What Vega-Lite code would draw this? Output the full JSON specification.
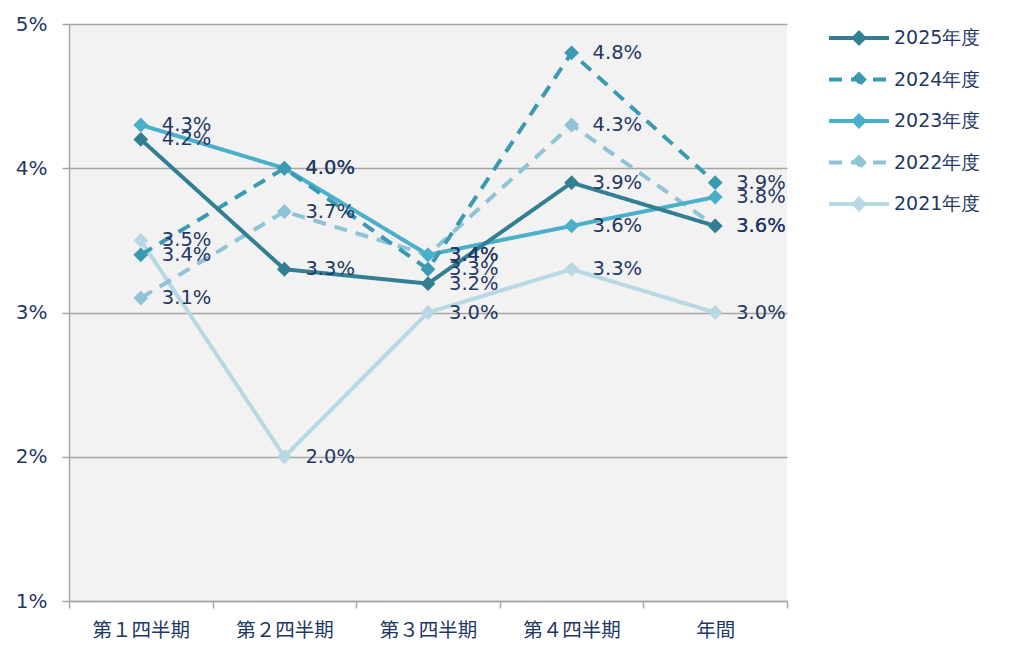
{
  "$schema": "https://vega.github.io/schema/vega-lite/v6.json",
  "autosize": {"type": "none"},
  "width": 718,
  "height": 577,
  "padding": {"left": 69, "top": 24, "right": 237, "bottom": 70},
  "background": "white",
  "config": {
    "view": {"fill": "#f2f2f2", "stroke": null},
    "font": "DejaVu Sans",
    "axis": {"labelColor": "#1f3864", "labelFont": "DejaVu Sans", "titleColor": "#1f3864"}
  },
  "data": {
    "values": [
      {"series": "2021年度", "period": "第１四半期", "value": 0.035},
      {"series": "2021年度", "period": "第２四半期", "value": 0.020},
      {"series": "2021年度", "period": "第３四半期", "value": 0.030},
      {"series": "2021年度", "period": "第４四半期", "value": 0.033},
      {"series": "2021年度", "period": "年間", "value": 0.030},
      {"series": "2022年度", "period": "第１四半期", "value": 0.031},
      {"series": "2022年度", "period": "第２四半期", "value": 0.037},
      {"series": "2022年度", "period": "第３四半期", "value": 0.034},
      {"series": "2022年度", "period": "第４四半期", "value": 0.043},
      {"series": "2022年度", "period": "年間", "value": 0.036},
      {"series": "2023年度", "period": "第１四半期", "value": 0.043},
      {"series": "2023年度", "period": "第２四半期", "value": 0.040},
      {"series": "2023年度", "period": "第３四半期", "value": 0.034},
      {"series": "2023年度", "period": "第４四半期", "value": 0.036},
      {"series": "2023年度", "period": "年間", "value": 0.038},
      {"series": "2024年度", "period": "第１四半期", "value": 0.034},
      {"series": "2024年度", "period": "第２四半期", "value": 0.040},
      {"series": "2024年度", "period": "第３四半期", "value": 0.033},
      {"series": "2024年度", "period": "第４四半期", "value": 0.048},
      {"series": "2024年度", "period": "年間", "value": 0.039},
      {"series": "2025年度", "period": "第１四半期", "value": 0.042},
      {"series": "2025年度", "period": "第２四半期", "value": 0.033},
      {"series": "2025年度", "period": "第３四半期", "value": 0.032},
      {"series": "2025年度", "period": "第４四半期", "value": 0.039},
      {"series": "2025年度", "period": "年間", "value": 0.036}
    ]
  },
  "encoding": {
    "x": {
      "field": "period",
      "type": "nominal",
      "sort": ["第１四半期", "第２四半期", "第３四半期", "第４四半期", "年間"],
      "scale": {"paddingInner": 0, "paddingOuter": 0},
      "title": null,
      "axis": {
        "labelAngle": 0,
        "labelFontSize": 19.5,
        "labelFont": "Noto Sans CJK JP",
        "labelPadding": 13,
        "tickBand": "extent",
        "tickSize": 7,
        "tickColor": "#a6a6a6",
        "tickWidth": 1.5,
        "domainColor": "#a6a6a6",
        "domainWidth": 1.5,
        "grid": false
      }
    },
    "y": {
      "field": "value",
      "type": "quantitative",
      "scale": {"domain": [0.01, 0.05], "nice": false, "zero": false},
      "title": null,
      "axis": {
        "values": [0.01, 0.02, 0.03, 0.04, 0.05],
        "format": ".0%",
        "labelFontSize": 20,
        "labelPadding": 15,
        "tickSize": 7,
        "tickColor": "#a6a6a6",
        "tickWidth": 1.5,
        "domainColor": "#a6a6a6",
        "domainWidth": 1.5,
        "grid": true,
        "gridColor": "#a6a6a6",
        "gridWidth": 1.5
      }
    },
    "color": {
      "field": "series",
      "type": "nominal",
      "scale": {
        "domain": ["2025年度", "2024年度", "2023年度", "2022年度", "2021年度"],
        "range": ["#327f93", "#3b9ab2", "#4aafc8", "#8fc3d6", "#b8d8e3"]
      },
      "legend": null
    }
  },
  "layer": [
    {
      "mark": {"type": "line", "strokeWidth": 4},
      "encoding": {
        "color": {
          "field": "series",
          "type": "nominal",
          "scale": {
            "domain": ["2025年度", "2024年度", "2023年度", "2022年度", "2021年度"],
            "range": ["#327f93", "#3b9ab2", "#4aafc8", "#8fc3d6", "#b8d8e3"]
          },
          "title": null,
          "legend": {
            "orient": "none",
            "legendX": 758,
            "legendY": -6,
            "symbolType": "M-1,0H1M0,-0.17L0.17,0L0,0.17L-0.17,0Z",
            "symbolSize": 3600,
            "symbolStrokeWidth": 4,
            "labelFontSize": 19,
            "labelColor": "#1f3864",
            "labelFont": "DejaVu Sans",
            "labelOffset": 3,
            "clipHeight": 40,
            "rowPadding": 1.5,
            "encode": {"symbols": {"update": {"fill": {"scale": "color", "field": "value"}}}}
          }
        },
        "strokeDash": {
          "field": "series",
          "type": "nominal",
          "scale": {
            "domain": ["2025年度", "2024年度", "2023年度", "2022年度", "2021年度"],
            "range": [[1, 0], [13, 9], [1, 0], [13, 9], [1, 0]]
          },
          "title": null,
          "legend": {"symbolType": "M-1,0H1M0,-0.17L0.17,0L0,0.17L-0.17,0Z"}
        }
      }
    },
    {
      "mark": {"type": "point", "shape": "diamond", "filled": true, "size": 220, "opacity": 1}
    },
    {
      "mark": {"type": "text", "align": "left", "baseline": "middle", "dx": 21, "fontSize": 19.5, "color": "#1f3864", "font": "DejaVu Sans"},
      "encoding": {
        "text": {"field": "value", "type": "quantitative", "format": ".1%"},
        "color": {"value": "#1f3864"}
      }
    }
  ]
}
